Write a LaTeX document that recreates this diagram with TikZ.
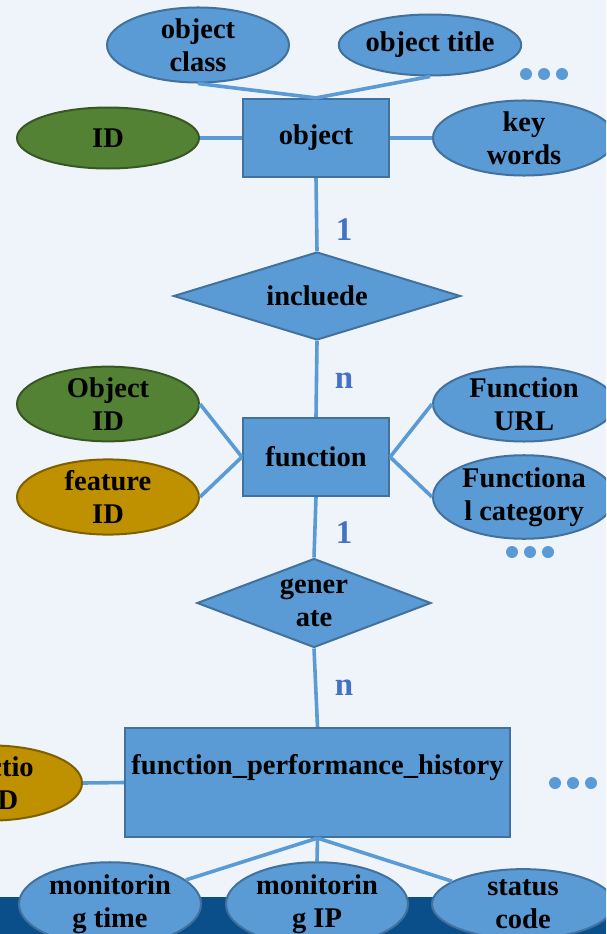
\documentclass[tikz,border=0pt]{standalone}
\usepackage{fontspec}
\setmainfont{Liberation Serif}
\usetikzlibrary{shapes.geometric}
\definecolor{bgpale}{HTML}{EEF4FA}
\definecolor{bandblue}{HTML}{0B4F8A}
\definecolor{boxblue}{HTML}{5B9BD5}
\definecolor{edgeblue}{HTML}{41719C}
\definecolor{keygreen}{HTML}{548235}
\definecolor{keygreenedge}{HTML}{385723}
\definecolor{fkgold}{HTML}{BF9000}
\definecolor{fkgoldedge}{HTML}{7F6000}
\definecolor{cardblue}{HTML}{4472C4}
\tikzset{
  txt/.style={font=\fontsize{28.5}{33}\selectfont\bfseries, text=black, align=center, inner sep=0pt},
  entity/.style={txt, rectangle, draw=edgeblue, fill=boxblue, line width=2.2pt},
  attr/.style={txt, ellipse, draw=edgeblue, fill=boxblue, line width=2pt,
    minimum width=182pt, minimum height=61pt},
  pkattr/.style={attr, draw=keygreenedge, fill=keygreen},
  fkattr/.style={attr, draw=fkgoldedge, fill=fkgold},
  relation/.style={txt, diamond, draw=edgeblue, fill=boxblue, line width=2pt},
  link/.style={draw=boxblue, line width=3.6pt},
  card/.style={font=\fontsize{33}{36}\selectfont\bfseries, text=cardblue, inner sep=0pt},
  more/.style={fill=boxblue, draw=none}
}
\begin{document}
\begin{tikzpicture}[x=1pt, y=-1pt]
  \clip (0,0) rectangle (606,934);
  \fill[bgpale] (0,0) rectangle (606,934);
  \fill[bandblue] (0,897) rectangle (606,934);

  % object entity and its attributes
  \node[entity, minimum width=146pt, minimum height=78pt] (obj) at (316,138) {object};
  \node[attr] (oclass) at (198,45) {object\\class};
  \node[attr] (otitle) at (430,45) {object title};
  \node[pkattr] (oid) at (108,138) {ID};
  \node[attr] (okw) at (524,138) {key\\words};

  % relation between object and function
  \node[relation, minimum width=287pt, minimum height=88pt, aspect=3.26] (incl) at (317,296) {incluede};

  % function entity and its attributes
  \node[entity, minimum width=146pt, minimum height=78pt] (func) at (316,457) {function};
  \node[pkattr] (fobj) at (108,404) {Object\\ID};
  \node[fkattr] (ffeat) at (108,497) {feature\\ID};
  \node[attr] (furl) at (524,404) {Function\\URL};
  \node[attr] (fcat) at (524,497) {Functiona\\l category};

  % relation between function and its history
  \node[relation, minimum width=234pt, minimum height=89pt, aspect=2.63] (gen) at (314,603) {gener\\ate};

  % history entity and its attributes
  \node[entity, minimum width=385pt, minimum height=109pt] (hist) at (317.5,782.5) {};
  \node[txt] at (317.5,768) {function\_performance\_history};
  \node[fkattr] (hfid) at (-9,783) {functio\\n ID};
  \node[attr] (htime) at (110,904) {monitorin\\g time};
  \node[attr] (hip) at (317,904) {monitorin\\g IP};
  \node[attr] (hcode) at (523,904) {status\\code};

  % connectors
  \draw[link] (oclass.south) -- (obj.north);
  \draw[link] (otitle.south) -- (obj.north);
  \draw[link] (oid.east) -- (obj.west);
  \draw[link] (okw.west) -- (obj.east);
  \draw[link] (obj.south) -- (incl.north);
  \draw[link] (incl.south) -- (func.north);
  \draw[link] (fobj.east) -- (func.west);
  \draw[link] (ffeat.east) -- (func.west);
  \draw[link] (furl.west) -- (func.east);
  \draw[link] (fcat.west) -- (func.east);
  \draw[link] (func.south) -- (gen.north);
  \draw[link] (gen.south) -- (hist.north);
  \draw[link] (hfid.east) -- (hist.west);
  \draw[link] (hist.south) -- (htime);
  \draw[link] (hist.south) -- (hip.north);
  \draw[link] (hist.south) -- (hcode);

  % cardinalities
  \node[card] (c1) at (344,230) {1};
  \node[card] (c2) at (344,381) {n};
  \node[card] (c3) at (344,533) {1};
  \node[card] (c4) at (344,688) {n};

  % ellipsis marks for further attributes
  \foreach \x in {526,544,562} \fill[more] (\x,74) circle (6pt);
  \foreach \x in {512,530,548} \fill[more] (\x,552) circle (6pt);
  \foreach \x in {555,573,591} \fill[more] (\x,783) circle (6pt);
\end{tikzpicture}
\end{document}
